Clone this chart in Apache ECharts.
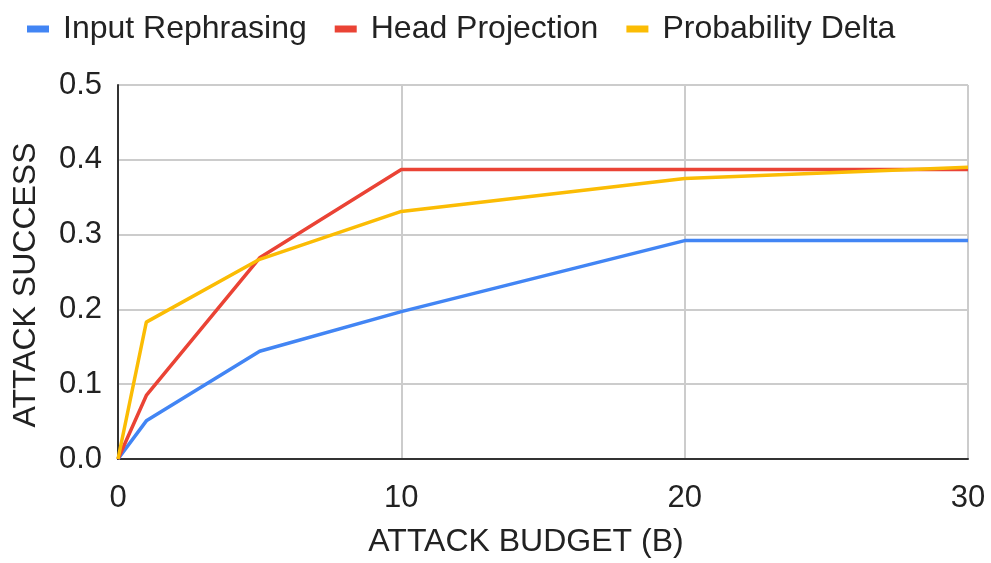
<!DOCTYPE html>
<html>
<head>
<meta charset="utf-8">
<script src="https://cdn.jsdelivr.net/npm/echarts@6/dist/echarts.min.js"></script>
<style>
  html, body { margin: 0; padding: 0; background: #fff; }
  #chart { width: 991px; height: 563px; }
</style>
</head>
<body>
<div id="chart"></div>
<script>
var budgets = [0, 1, 5, 10, 20, 30];
var inputRephrasing = [0, 0.051, 0.144, 0.197, 0.292, 0.292];
var headProjection = [0, 0.085, 0.269, 0.387, 0.387, 0.387];
var probabilityDelta = [0, 0.183, 0.267, 0.331, 0.375, 0.390];
var seriesNames = ['Input Rephrasing', 'Head Projection', 'Probability Delta'];
var colors = ['#4285F4', '#EA4335', '#FBBC04'];

function pairs(xs, ys) {
    var out = [];
    for (var i = 0; i < xs.length; i++) out.push([xs[i], ys[i]]);
    return out;
}

var mychart = echarts.init(document.getElementById('chart'));
var fontFam = 'Liberation Sans, Arial, sans-serif';

var option = {
    animation: false,
    color: colors,
    legend: {
        data: seriesNames,
        left: 22,
        top: 8,
        itemWidth: 22,
        itemHeight: 7,
        itemGap: 28,
        icon: 'rect',
        textStyle: { color: '#222', fontSize: 32, fontFamily: fontFam, padding: [0, 0, 0, 9] }
    },
    grid: { left: 118, right: 23, top: 85, bottom: 102 },
    xAxis: {
        type: 'value',
        min: 0,
        max: 30,
        interval: 10,
        name: 'ATTACK BUDGET (B)',
        nameLocation: 'middle',
        nameGap: 67,
        nameTextStyle: { color: '#222', fontSize: 32, fontFamily: fontFam, padding: [0, 34, 0, 0] },
        axisLine: { lineStyle: { color: '#333', width: 2 } },
        axisTick: { show: false },
        axisLabel: { color: '#222', fontSize: 31, fontFamily: fontFam, margin: 24 },
        splitLine: { show: true, lineStyle: { color: '#ccc', width: 2 } }
    },
    yAxis: {
        type: 'value',
        min: 0,
        max: 0.5,
        interval: 0.1,
        name: 'ATTACK SUCCESS',
        nameLocation: 'middle',
        nameGap: 76,
        nameTextStyle: { color: '#222', fontSize: 32, fontFamily: fontFam, padding: [0, 26, 0, 0] },
        axisLine: { show: true, lineStyle: { color: '#333', width: 2 } },
        axisTick: { show: false },
        axisLabel: {
            color: '#222', fontSize: 31, fontFamily: fontFam, margin: 16,
            formatter: function (v) { return v.toFixed(1); }
        },
        splitLine: { show: true, lineStyle: { color: '#ccc', width: 2 } }
    },
    series: [
        {
            name: seriesNames[0],
            type: 'line',
            showSymbol: false,
            lineStyle: { width: 3.5 },
            data: pairs(budgets, inputRephrasing)
        },
        {
            name: seriesNames[1],
            type: 'line',
            showSymbol: false,
            lineStyle: { width: 3.5 },
            data: pairs(budgets, headProjection)
        },
        {
            name: seriesNames[2],
            type: 'line',
            showSymbol: false,
            lineStyle: { width: 3.5 },
            data: pairs(budgets, probabilityDelta)
        }
    ]
};
mychart.setOption(option);
</script>
</body>
</html>
